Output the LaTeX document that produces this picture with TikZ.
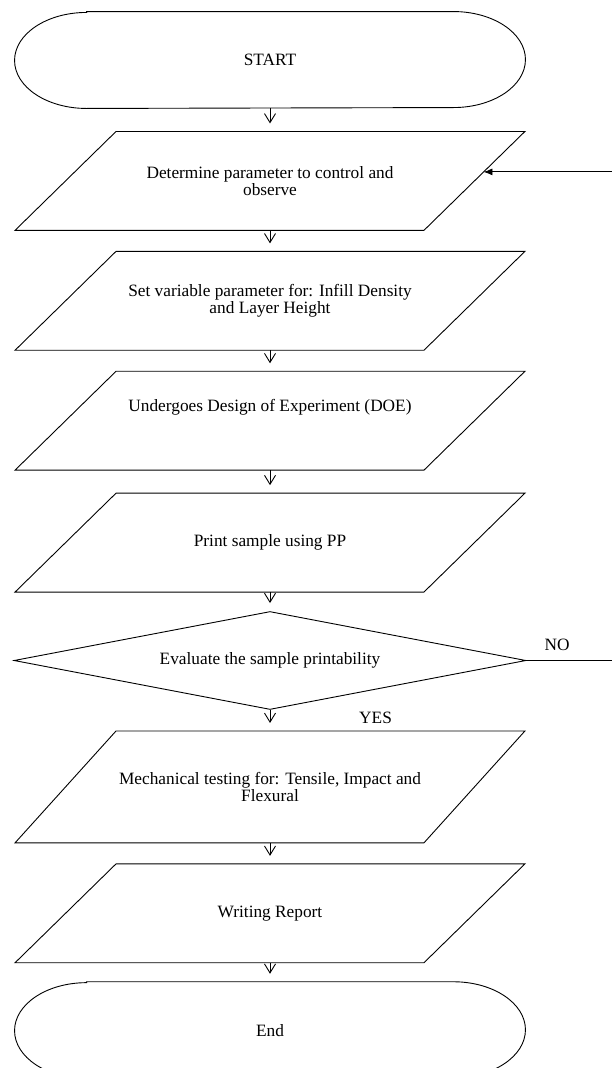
\documentclass[tikz,border=0pt]{standalone}
\usepackage{fontspec}
\setmainfont{Liberation Serif}
\usepackage{tikz}
\usetikzlibrary {arrows.meta,
                 positioning,
                 shapes.geometric}
\tikzset{
        base/.style={line width=0.9pt, align=center, inner sep=0pt},
        io/.style={base, minimum width=408pt, minimum height=98pt},
        test/.style={base, draw, diamond, aspect=5.2,
                     minimum width=512pt, minimum height=98pt},
        term/.style={base, minimum width=510pt, minimum height=96pt},
        lbl/.style={inner sep=0pt},
        outline/.style={line width=0.9pt},
        myarrow/.style={-{Straight Barb[length=9pt,width=11pt]},
                        line width=0.9pt, shorten >=8pt},
        backarrow/.style={-{Latex[length=9pt,width=7pt]}, line width=0.9pt},
 }
% terminator with elliptic ends
\newcommand{\termoutline}[1]{%
  \draw[outline] ([xshift=72pt]#1.north west) -- ([xshift=-72pt]#1.north east)
    arc[start angle=90, end angle=-90, x radius=72pt, y radius=48pt]
    -- ([xshift=72pt]#1.south west)
    arc[start angle=270, end angle=90, x radius=72pt, y radius=48pt] -- cycle;}
% slanted input/output box
\newcommand{\iooutline}[1]{%
  \draw[outline] ([xshift=50.5pt]#1.north west) -- ([xshift=50.5pt]#1.north east)
    -- ([xshift=-50.5pt]#1.south east) -- ([xshift=-50.5pt]#1.south west) -- cycle;}

\begin{document}
\begin{tikzpicture}[font={\fontsize{17.3pt}{16.5pt}\selectfont}]
    \useasboundingbox (0,0) rectangle (611pt,-1068pt);

    \node[term] (start) at (270pt,-60pt) {START};
    \node[io, below=23pt of start] (param) {Determine parameter to control and\\observe};
    \node[io, below=21pt of param] (var) {Set variable parameter for: Infill Density\\and Layer Height};
    \node[io, below=21pt of var, text depth=30pt] (doe) {Undergoes Design of Experiment (DOE)};
    \node[io, below=23pt of doe] (print) {Print sample using PP};
    \node[test, below=19pt of print] (eval) {Evaluate the sample printability};
    \node[io, below=21pt of eval, minimum height=111pt] (mech) {Mechanical testing for: Tensile, Impact and\\Flexural};
    \node[io, below=21pt of mech] (report) {Writing Report};
    \node[term, below=19pt of report] (end) {End};

    \node[lbl, above right=10pt and 18pt of eval.east] (no) {NO};
    \node[lbl, below right=2pt and 89pt of eval.south] (yes) {YES};
    \coordinate[right=110pt of eval.east] (loop);

    \termoutline{start}
    \termoutline{end}
    \foreach \n in {param,var,doe,print,mech,report}
        \iooutline{\n};

    \draw[myarrow] (start) -- (param);
    \draw[myarrow] (param) -- (var);
    \draw[myarrow] (var) -- (doe.north);
    \draw[myarrow] (doe.south) -- (print);
    \draw[myarrow] (print) -- (eval);
    \draw[myarrow] (eval) -- (mech);
    \draw[myarrow] (mech) -- (report);
    \draw[myarrow] (report) -- (end);
    \draw[backarrow] (eval.east) -- (loop) |- ([shift={(9pt,9pt)}]param.east);
\end{tikzpicture}
\end{document}
